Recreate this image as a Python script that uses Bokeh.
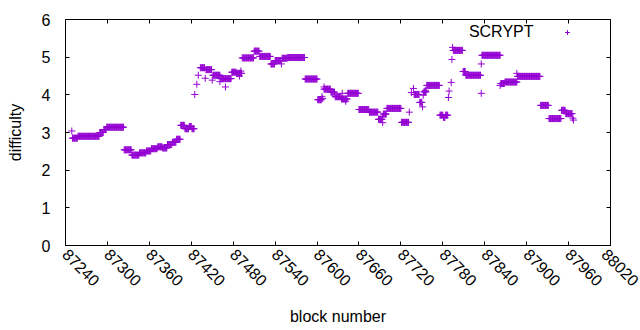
import math
from bokeh.plotting import figure
from bokeh.models import (Range1d, FixedTicker, LinearAxis, Legend, LegendItem,
                          Label, ColumnDataSource)
from bokeh.embed import file_html
from bokeh.resources import INLINE

# ---- data ----
run_start = [87250, 87258, 87289, 87295, 87299, 87324, 87335, 87346, 87356, 87363,
             87372, 87379, 87386, 87393, 87399, 87405, 87411, 87417, 87421, 87433,
             87441, 87451, 87462, 87478, 87485, 87493, 87510, 87518, 87534, 87540,
             87550, 87558, 87583, 87601, 87610, 87620, 87626, 87635, 87644, 87660,
             87675, 87688, 87695, 87700, 87721, 87739, 87747, 87753, 87757, 87776,
             87781, 87784, 87795, 87809, 87813, 87836, 87863, 87869, 87887, 87920,
             87932, 87950, 87956]
run_end = [87257, 87288, 87294, 87298, 87323, 87334, 87345, 87355, 87362, 87371,
           87378, 87385, 87392, 87398, 87404, 87410, 87416, 87420, 87424, 87439,
           87449, 87461, 87477, 87484, 87492, 87509, 87517, 87533, 87539, 87548,
           87557, 87582, 87600, 87606, 87619, 87625, 87634, 87643, 87659, 87674,
           87687, 87693, 87699, 87720, 87731, 87746, 87750, 87756, 87775, 87780,
           87783, 87787, 87808, 87812, 87834, 87862, 87868, 87886, 87919, 87931,
           87949, 87955, 87965]
run_value = [2.85, 2.90, 3.00, 3.08, 3.14, 2.54, 2.40, 2.46, 2.51, 2.57,
             2.62, 2.59, 2.68, 2.74, 2.82, 3.19, 3.10, 3.16, 3.10, 4.72,
             4.67, 4.52, 4.43, 4.60, 4.57, 4.98, 5.16, 5.02, 4.82, 4.91,
             4.97, 4.99, 4.42, 3.87, 4.15, 4.07, 3.95, 3.89, 4.04, 3.61,
             3.54, 3.35, 3.49, 3.64, 3.27, 4.01, 3.80, 4.08, 4.25, 3.46,
             3.40, 3.46, 5.18, 4.62, 4.52, 5.05, 4.30, 4.34, 4.49, 3.72,
             3.37, 3.59, 3.50]

single_block = [87249, 87425, 87428, 87430, 87440, 87450, 87461, 87469, 87489, 87491,
                87549, 87607, 87608, 87610, 87636, 87641, 87694, 87694, 87732, 87735,
                87738, 87751, 87752, 87755, 87788, 87789, 87792, 87793, 87794, 87835,
                87835, 87862, 87886, 87966, 87967]
single_value = [3.04, 4.01, 4.28, 4.52, 4.44, 4.39, 4.35, 4.21, 4.50, 4.63,
                4.82, 3.95, 3.90, 4.21, 4.04, 3.83, 3.26, 3.43, 3.54, 4.06,
                4.17, 3.68, 3.99, 4.12, 3.93, 4.10, 4.33, 4.94, 5.26, 4.82,
                4.04, 4.25, 4.57, 3.38, 3.33]

x_ticks = [87240, 87300, 87360, 87420, 87480, 87540, 87600, 87660,
           87720, 87780, 87840, 87900, 87960, 88020]
y_ticks = [0, 1, 2, 3, 4, 5, 6]
series_name = "SCRYPT"

# expand runs of constant difficulty to one point per block
blocks, diffs = [], []
for s, e, v in zip(run_start, run_end, run_value):
    for b in range(s, e + 1):
        blocks.append(b)
        diffs.append(v)
blocks += single_block
diffs += single_value

COLOR = "#9400D3"
FONT = "Liberation Sans"
FS = "16px"

p = figure(width=640, height=330, output_backend="svg", toolbar_location=None,
           x_range=Range1d(87240, 88020), y_range=Range1d(0, 6),
           min_border_left=65, min_border_right=30, min_border_top=19,
           min_border_bottom=85, background_fill_color="white",
           border_fill_color="white")
p.grid.visible = False
p.outline_line_color = "black"
p.outline_line_width = 1

src = ColumnDataSource(data=dict(x=blocks, y=diffs))
r = p.scatter("x", "y", source=src, marker="cross", size=7,
              line_color=COLOR, line_width=1)

for ax in (p.xaxis[0], p.yaxis[0]):
    ax.major_tick_in = 4
    ax.major_tick_out = 0
    ax.minor_tick_line_color = None
    ax.axis_line_color = "black"
    ax.major_tick_line_color = "black"
    ax.major_label_text_font = FONT
    ax.major_label_text_font_size = FS
    ax.major_label_text_color = "black"
    ax.axis_label_text_font = FONT
    ax.axis_label_text_font_size = FS
    ax.axis_label_text_font_style = "normal"
    ax.axis_label_text_color = "black"

p.xaxis.ticker = FixedTicker(ticks=x_ticks)
p.yaxis.ticker = FixedTicker(ticks=y_ticks)
p.xaxis.major_label_orientation = -math.pi / 4
p.xaxis.major_label_standoff = 6
p.yaxis.major_label_standoff = 15
p.xaxis.axis_label = "block number"
p.yaxis.axis_label = "difficulty"
p.xaxis.axis_label_standoff = 14
p.yaxis.axis_label_standoff = 15

# mirrored ticks on top and right (no labels)
for loc, ticks in (("above", x_ticks), ("right", y_ticks)):
    ax = LinearAxis(ticker=FixedTicker(ticks=ticks))
    ax.major_tick_in = 4
    ax.major_tick_out = 0
    ax.minor_tick_line_color = None
    ax.axis_line_color = None
    ax.major_label_overrides = {t: "" for t in ticks}
    ax.major_label_standoff = 0
    p.add_layout(ax, loc)

# key: text followed by the marker sample, top right
legend = Legend(items=[LegendItem(label=" ", renderers=[r])],
                location=(494, 207), padding=0, margin=0, spacing=0,
                glyph_width=16, glyph_height=12, label_standoff=0,
                label_width=0, label_height=0, label_text_font_size="10px",
                background_fill_alpha=0, border_line_color=None)
p.add_layout(legend)
p.add_layout(Label(x=468, y=214, x_units="screen", y_units="screen",
                   text=series_name, text_align="right", text_baseline="middle",
                   text_font=FONT, text_font_size=FS, text_color="black"))

open("out.html", "w").write(file_html(p, INLINE))
